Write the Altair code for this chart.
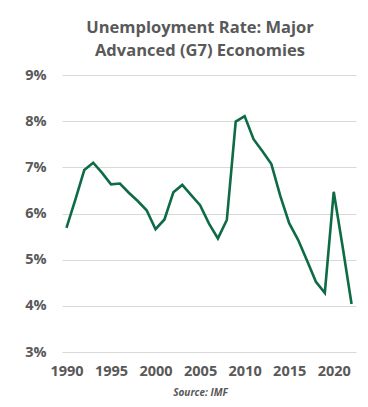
import altair as alt
import pandas as pd

years = list(range(1990, 2023))
rates = [5.69, 6.30, 6.94, 7.10, 6.88, 6.63, 6.65, 6.45, 6.27, 6.07,
         5.66, 5.87, 6.46, 6.62, 6.40, 6.18, 5.78, 5.46, 5.86, 7.99,
         8.11, 7.61, 7.35, 7.07, 6.38, 5.79, 5.43, 4.98, 4.52, 4.28,
         6.47, 5.28, 4.04]
x_ticks = [1990, 1995, 2000, 2005, 2010, 2015, 2020]
y_ticks = [3, 4, 5, 6, 7, 8, 9]

df = pd.DataFrame({"year": years, "rate": rates})

FONT = "Open Sans"
GRAY = "#595959"

chart = alt.Chart(df).mark_line(color="#0e6b45", strokeWidth=2.6).encode(
    x=alt.X("year:Q",
            scale=alt.Scale(domain=[1989.5, 2022.5], nice=False, zero=False),
            axis=alt.Axis(values=x_ticks, format="d", grid=False, domain=False, ticks=False,
                          labelFont=FONT, labelFontWeight="bold", labelFontSize=14.5,
                          labelColor=GRAY, labelPadding=12,
                          title="Source: IMF", titleFont=FONT, titleFontStyle="italic",
                          titleFontWeight="bold", titleFontSize=10, titleColor=GRAY,
                          titleX=138, titlePadding=10)),
    y=alt.Y("rate:Q",
            scale=alt.Scale(domain=[3, 9], nice=False, zero=False),
            axis=alt.Axis(values=y_ticks, labelExpr="datum.value + '%'", domain=False, ticks=False,
                          gridColor="#d9d9d9", gridWidth=1,
                          labelFont=FONT, labelFontWeight="bold", labelFontSize=14.5,
                          labelColor=GRAY, labelPadding=16, title=None)),
).properties(
    width=294, height=277,
    title=alt.TitleParams(text=["Unemployment Rate: Major", "Advanced (G7) Economies"],
                          font=FONT, fontSize=16.5, fontWeight="bold", color=GRAY,
                          lineHeight=23, anchor="middle", frame="group", dx=-9, offset=8),
    autosize=alt.AutoSizeParams(type="none"),
    padding={"left": 54, "top": 67, "right": 4, "bottom": 47},
).configure_view(stroke=None)

chart.save("out.html", embed_options={"renderer": "svg", "actions": False})
